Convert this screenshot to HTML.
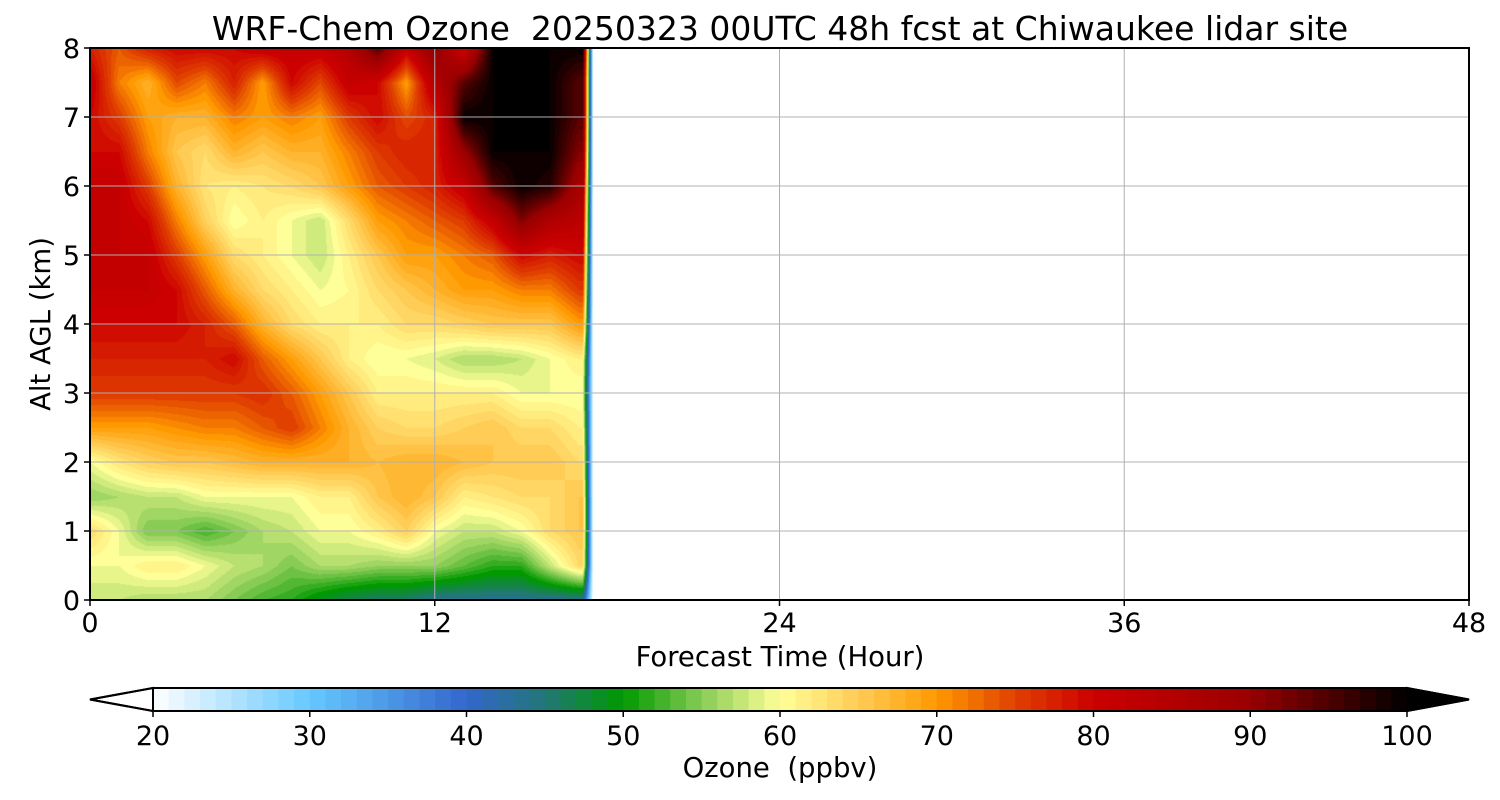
<!DOCTYPE html>
<html><head><meta charset="utf-8">
<style>
body{margin:0;background:#fff;width:1500px;height:800px;overflow:hidden;font-family:"DejaVu Sans","Liberation Sans",sans-serif;}
#wrap{position:relative;width:1500px;height:800px;}
canvas{position:absolute;left:90px;top:48px;}
svg{position:absolute;left:0;top:0;font-family:"DejaVu Sans","Liberation Sans",sans-serif;}
</style></head>
<body>
<div id="wrap">
<canvas id="cv" width="1379" height="552"></canvas>
<svg id="sv" width="1500" height="800"></svg>
</div>
<script>
const hours=[0,1,2,3,4,5,6,7,8,9,10,11,12,13,14,15,16,17];
const alts=[8,7.5,7,6.5,6,5.5,5,4.5,4,3.5,3,2.5,2,1.5,1,0.5,0];
const ozone=[
[78,74,78,80,80,80,82,82,82,85,95,82,92,80,100,100,100,100],
[82,72,68,75,72,78,70,80,75,82,80,70,85,95,100,100,100,95],
[80,76,70,68,68,72,70,72,70,76,80,75,78,100,100,100,100,95],
[80,80,72,66,64,68,66,68,68,72,76,78,78,90,100,100,100,92],
[82,82,76,68,63,62,63,64,66,70,74,76,78,82,95,100,98,88],
[82,82,80,72,65,60,62,60,58,64,70,72,74,76,82,92,86,84],
[82,82,82,76,70,64,62,60,58,62,66,70,70,72,74,80,78,80],
[82,82,82,80,74,68,64,62,60,61,64,66,68,70,70,72,72,76],
[80,80,80,80,78,74,68,64,62,62,62,64,64,65,66,66,66,70],
[78,78,78,78,78,80,74,70,66,62,60,60,59,57,57,58,60,62],
[76,76,76,76,76,76,77,74,70,66,62,62,62,62,62,60,60,60],
[70,70,70,71,72,72,74,76,72,68,65,64,64,65,66,64,64,62],
[60,63,65,66,66,67,68,68,68,68,67,68,68,67,66,66,66,64],
[56,57,58,58,60,60,60,60,62,62,66,68,66,62,63,64,64,66],
[64,60,55,55,53,55,57,58,60,60,62,65,60,58,58,60,64,66],
[60,60,62,62,60,58,57,55,57,57,56,56,56,54,52,52,58,64],
[58,58,57,57,57,55,53,52,49,47,46,46,44,44,44,44,44,44]
];
const cbTicks=[20,30,40,50,60,70,80,90,100];
const xTicks=[0,12,24,36,48];
const yTicks=[0,1,2,3,4,5,6,7,8];
const dataEnd=17.5;

const PX=90,PY=48,PW=1379,PH=552;
const xs=h=>PX+h/48*PW, ys=a=>PY+PH-a/8*PH;
const anchors=[[20,[255,255,255]],[30,[102,200,255]],[40,[51,102,204]],[45,[34,119,119]],[50,[0,153,0]],[55,[136,204,85]],[60,[255,255,153]],[65,[255,204,85]],[70,[255,153,0]],[75,[224,64,0]],[80,[204,0,0]],[90,[153,0,0]],[100,[0,0,0]]];
function cmap(v){v=Math.max(20,Math.min(100,v));for(let i=0;i<anchors.length-1;i++){const a=anchors[i],b=anchors[i+1];if(v<=b[0]){const t=(v-a[0])/(b[0]-a[0]);return a[1].map((c,k)=>Math.round(c+(b[1][k]-c)*t));}}return [0,0,0];}
function sample(h,a){
  let hi=Math.min(hours.length-2,Math.max(0,Math.floor(h)));let th=Math.min(1,Math.max(0,h-hours[hi]));
  let ai=0;while(ai<alts.length-2&&alts[ai+1]>a)ai++;
  let ta=(alts[ai]-a)/(alts[ai]-alts[ai+1]);ta=Math.min(1,Math.max(0,ta));
  const v00=ozone[ai][hi],v01=ozone[ai][hi+1],v10=ozone[ai+1][hi],v11=ozone[ai+1][hi+1];
  return (v00*(1-th)+v01*th)*(1-ta)+(v10*(1-th)+v11*th)*ta;
}
const ctx=document.getElementById('cv').getContext('2d');
const img=ctx.createImageData(PW,PH);
for(let y=0;y<PH;y++){const a=8-y/PH*8;for(let x=0;x<PW;x++){const h=x/PW*48;let o=(y*PW+x)*4;
  if(h>dataEnd){img.data[o]=255;img.data[o+1]=255;img.data[o+2]=255;img.data[o+3]=255;continue;}
  let v=Math.floor(sample(h,a));
  if(h>17.15){const f=(h-17.15)/(dataEnd-17.15);v=v*(1-f)+20*f;v=Math.floor(v);}
  const c=cmap(v);img.data[o]=c[0];img.data[o+1]=c[1];img.data[o+2]=c[2];img.data[o+3]=255;}}
ctx.putImageData(img,0,0);

const sv=document.getElementById('sv');const NS='http://www.w3.org/2000/svg';
function el(t,at,txt){const e=document.createElementNS(NS,t);for(const k in at)e.setAttribute(k,at[k]);if(txt!==undefined)e.textContent=txt;sv.appendChild(e);return e;}
xTicks.forEach(t=>{const g=el('line',{x1:xs(t),x2:xs(t),y1:PY,y2:PY+PH,stroke:'#b0b0b0','stroke-width':1});


const tk=el('line',{x1:xs(t),x2:xs(t),y1:PY+PH,y2:PY+PH+6,stroke:'#000','stroke-width':1.5});


const l=el('text',{x:xs(t),y:632,'font-size':27,'text-anchor':'middle'},t);

});
yTicks.forEach(t=>{const g=el('line',{x1:PX,x2:PX+PW,y1:ys(t),y2:ys(t),stroke:'#b0b0b0','stroke-width':1});


const tk=el('line',{x1:PX-6,x2:PX,y1:ys(t),y2:ys(t),stroke:'#000','stroke-width':1.5});


const l=el('text',{x:80,y:ys(t)+10,'font-size':27,'text-anchor':'end'},t);

});
const fr=el('rect',{x:PX,y:PY,width:PW,height:PH,fill:'none',stroke:'#000','stroke-width':2});


const ti=el('text',{x:780,y:40,'font-size':33,'text-anchor':'middle'},'WRF-Chem Ozone  20250323 00UTC 48h fcst at Chiwaukee lidar site');


ti.style.whiteSpace='pre';
const xl=el('text',{x:780,y:666,'font-size':27.5,'text-anchor':'middle'},'Forecast Time (Hour)');


const yl=el('text',{x:0,y:0,'font-size':27.5,'text-anchor':'middle',transform:'translate(50,324) rotate(-90)'},'Alt AGL (km)');


const CB0=153,CB1=1407,CBY=688,CBH=23;const cx=v=>CB0+(v-20)/80*(CB1-CB0);
for(let v=20;v<100;v++){const r=el('rect',{x:cx(v),y:CBY,width:cx(v+1)-cx(v)+0.6,height:CBH,fill:'rgb('+cmap(v+0.5).join(',')+')'});

}
const lt=el('polygon',{points:`${CB0},${CBY} ${CB0},${CBY+CBH} 90,${CBY+CBH/2}`,fill:'#fff',stroke:'#000','stroke-width':2});


const rt=el('polygon',{points:`${CB1},${CBY} ${CB1},${CBY+CBH} 1469,${CBY+CBH/2}`,fill:'#000',stroke:'#000','stroke-width':2});


const cbf=el('polyline',{points:`${CB0},${CBY} ${CB1},${CBY} 1469,${CBY+CBH/2} ${CB1},${CBY+CBH} ${CB0},${CBY+CBH} 90,${CBY+CBH/2} ${CB0},${CBY}`,fill:'none',stroke:'#000','stroke-width':2});


cbTicks.forEach(t=>{const tk=el('line',{x1:cx(t),x2:cx(t),y1:CBY+CBH,y2:CBY+CBH+6,stroke:'#000','stroke-width':1.5});


const l=el('text',{x:cx(t),y:745,'font-size':27,'text-anchor':'middle'},t);

});
const cl=el('text',{x:780,y:777,'font-size':27.5,'text-anchor':'middle'},'Ozone  (ppbv)');


cl.style.whiteSpace='pre';
</script>
</body></html>
